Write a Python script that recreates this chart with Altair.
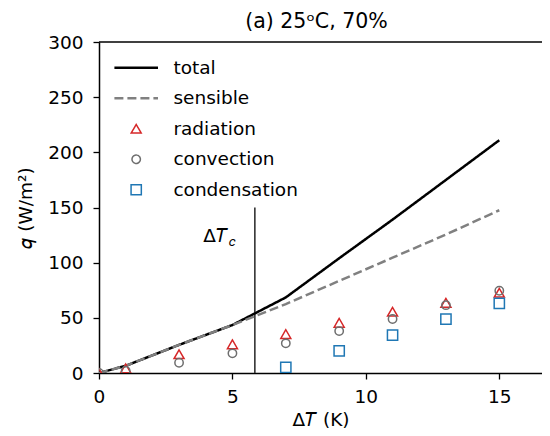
import altair as alt
import pandas as pd

# ---- data ----
x_vals = [0, 1, 3, 5, 7, 9, 11, 13, 15]
total = [0, 6.5, 25.5, 43.5, 68.5, 104, 139, 175, 211]
sensible = [0, 6.5, 25.5, 43.5, 62.5, 83.5, 104.5, 125.5, 147.5]
radiation = [0, 4.2, 17, 26, 35.3, 45.5, 55.5, 63.6, 72.7]
convection = [0, 2, 9.3, 17.8, 26.9, 38, 48.9, 61.5, 74.5]
cond_x = [7, 9, 11, 13, 15]
condensation = [5.2, 20, 34.4, 48.9, 63]
delta_tc = 5.84
delta_tc_top = 150

series = ["total", "sensible", "radiation", "convection", "condensation"]
colors = ["#000000", "#808080", "#d62728", "#6e6e6e", "#1f77b4"]
shapes = ["stroke", "stroke", "triangle-up", "circle", "square"]
dashes = [[1, 0], [9, 4], [1, 0], [1, 0], [1, 0]]
sizes = [1900, 1900, 100, 70, 105]
widths = [2.5, 2.5, 1.5, 1.5, 1.5]

lines_df = pd.DataFrame(
    [{"x": x, "y": v, "series": "total"} for x, v in zip(x_vals, total)]
    + [{"x": x, "y": v, "series": "sensible"} for x, v in zip(x_vals, sensible)]
)
points_df = pd.DataFrame(
    [{"x": x, "y": v, "series": "radiation"} for x, v in zip(x_vals, radiation)]
    + [{"x": x, "y": v, "series": "convection"} for x, v in zip(x_vals, convection)]
    + [{"x": x, "y": v, "series": "condensation"} for x, v in zip(cond_x, condensation)]
)
rule_df = pd.DataFrame({"x": [delta_tc], "y": [0], "y2": [delta_tc_top]})
lab_df = pd.DataFrame({"x": [4.83], "y": [119]})

FS = 18.5
FONT = "DejaVu Sans"
W, H = 443, 331

xscale = alt.Scale(domain=[0, 16.6], nice=False, zero=False)
yscale = alt.Scale(domain=[0, 300], nice=False)

xaxis = alt.Axis(values=[0, 5, 10, 15], title="Δ𝑇 (K)", grid=False, tickSize=6,
                 labelPadding=8.5, titlePadding=4, labelFlush=False)
yaxis = alt.Axis(values=[0, 50, 100, 150, 200, 250, 300], title="𝑞 (W/m²)",
                 grid=False, tickSize=6, labelPadding=10, titlePadding=12)

legend = alt.Legend(title=None, orient="none", legendX=13.7, legendY=16.5,
                    labelFontSize=FS, labelOffset=13.7, rowPadding=11.5,
                    clipHeight=18.5, padding=0, symbolFillColor="transparent",
                    symbolOpacity=1)

color_enc = alt.Color("series:N", scale=alt.Scale(domain=series, range=colors),
                      legend=legend)
sw_enc = alt.StrokeWidth("series:N",
                         scale=alt.Scale(type="ordinal", domain=series, range=widths),
                         legend=legend)

spine = alt.Chart(pd.DataFrame({"d": [0]})).mark_rule(
    color="black", strokeWidth=1.5
).encode(x=alt.value(0), x2=alt.value(W), y=alt.value(0))

rule = alt.Chart(rule_df).mark_rule(color="#333333", strokeWidth=1.6).encode(
    x=alt.X("x:Q", scale=xscale, axis=xaxis),
    y=alt.Y("y:Q", scale=yscale, axis=yaxis),
    y2="y2:Q",
)

lines = alt.Chart(lines_df).mark_line(clip=True).encode(
    x=alt.X("x:Q", scale=xscale, axis=xaxis),
    y=alt.Y("y:Q", scale=yscale, axis=yaxis),
    color=color_enc,
    strokeWidth=sw_enc,
    strokeDash=alt.StrokeDash("series:N", scale=alt.Scale(domain=series, range=dashes),
                              legend=legend),
    order=alt.Order("x:Q"),
)

points = alt.Chart(points_df).mark_point(filled=False, clip=True, opacity=1).encode(
    x=alt.X("x:Q", scale=xscale),
    y=alt.Y("y:Q", scale=yscale),
    color=color_enc,
    strokeWidth=sw_enc,
    shape=alt.Shape("series:N", scale=alt.Scale(domain=series, range=shapes),
                    legend=legend),
    size=alt.Size("series:N",
                  scale=alt.Scale(type="ordinal", domain=series, range=sizes),
                  legend=legend),
)

lab_main = alt.Chart(lab_df).mark_text(align="right", baseline="alphabetic",
                                       fontSize=FS, font=FONT, color="black").encode(
    x=alt.X("x:Q", scale=xscale), y=alt.Y("y:Q", scale=yscale),
    text=alt.value("Δ𝑇"),
)
lab_sub = alt.Chart(lab_df).mark_text(align="left", baseline="alphabetic", dx=1, dy=4,
                                      fontSize=13, font=FONT, color="black").encode(
    x=alt.X("x:Q", scale=xscale), y=alt.Y("y:Q", scale=yscale),
    text=alt.value("𝑐"),
)

chart = alt.layer(rule, lines, points, lab_main, lab_sub, spine).properties(
    width=W, height=H,
    autosize="none",
    padding={"left": 91, "top": 34, "right": 0, "bottom": 55},
    title="(a) 25ᵒC, 70%",
).configure_view(stroke=None).configure_axis(
    labelFont=FONT, titleFont=FONT, labelFontSize=FS, titleFontSize=FS,
    titleFontWeight="normal", labelColor="black", titleColor="black",
    domainColor="black", tickColor="black", domainWidth=1.5, tickWidth=1.3,
).configure_legend(labelFont=FONT, labelColor="black").configure_title(
    font=FONT, fontSize=20.5, fontWeight="normal", color="black", anchor="middle",
    dx=-4, offset=1, baseline="alphabetic", frame="group",
)

chart.save("out.html", embed_options={"renderer": "svg", "actions": False})
